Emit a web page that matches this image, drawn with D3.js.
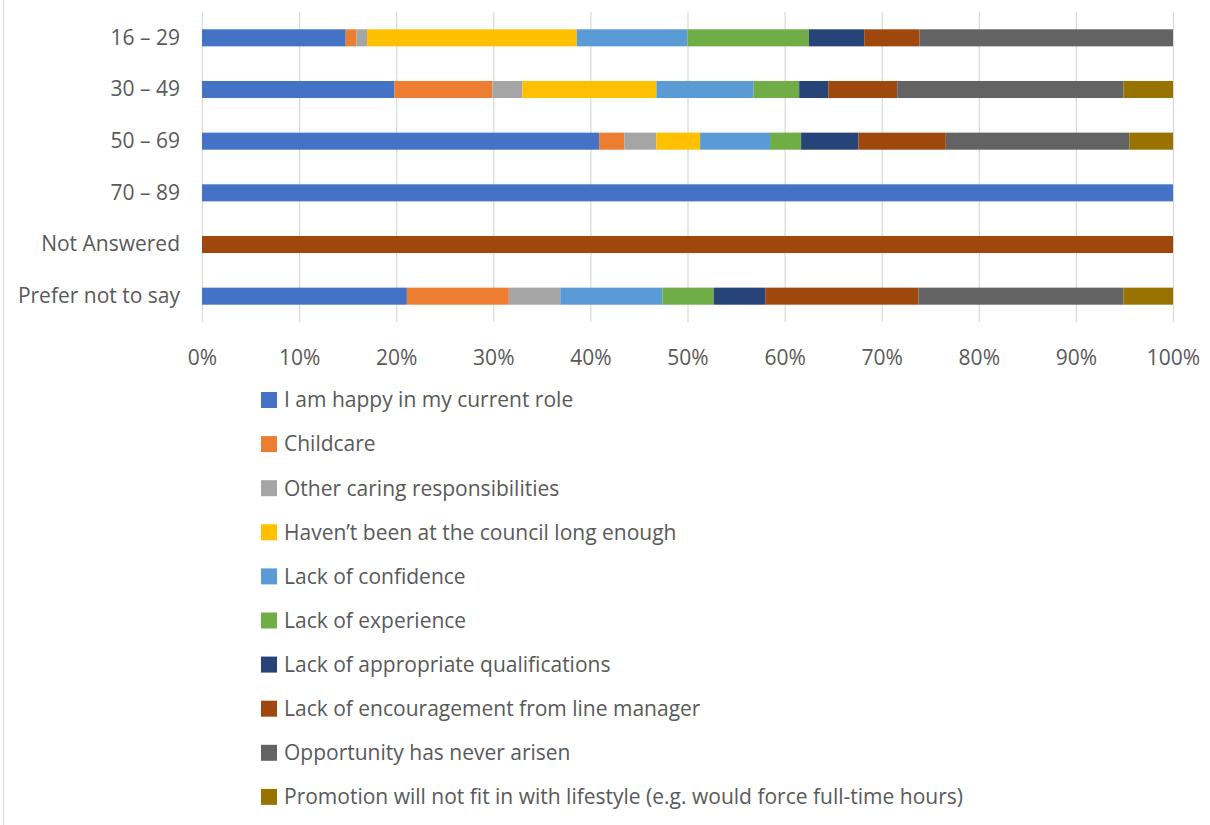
<!DOCTYPE html>
<html><head><meta charset="utf-8">
<script src="https://cdn.jsdelivr.net/npm/d3@7/dist/d3.min.js"></script>
<style>
html,body{margin:0;padding:0;background:#fff;}
svg{display:block;}
</style></head>
<body>
<svg id="chart" width="1210" height="825"></svg>
<script>
const categories = ["16 – 29","30 – 49","50 – 69","70 – 89","Not Answered","Prefer not to say"];
const seriesNames = [
  "I am happy in my current role",
  "Childcare",
  "Other caring responsibilities",
  "Haven’t been at the council long enough",
  "Lack of confidence",
  "Lack of experience",
  "Lack of appropriate qualifications",
  "Lack of encouragement from line manager",
  "Opportunity has never arisen",
  "Promotion will not fit in with lifestyle (e.g. would force full-time hours)"
];
const seriesColors = ["#4472C4","#ED7D31","#A5A5A5","#FFC000","#5B9BD5","#70AD47","#264478","#9E480E","#636363","#997300"];
// percentage values, one array per series, in category order
const happy        = [14.8, 19.8, 40.9, 100, 0, 21.1];
const childcare    = [1.1, 10.1, 2.6, 0, 0, 10.5];
const otherCaring  = [1.1, 3.1, 3.3, 0, 0, 5.3];
const notLongEnough= [21.6, 13.8, 4.5, 0, 0, 0];
const confidence   = [11.4, 10.0, 7.2, 0, 0, 10.5];
const experience   = [12.5, 4.7, 3.2, 0, 0, 5.3];
const qualifications=[5.7, 3.0, 5.9, 0, 0, 5.3];
const encouragement= [5.7, 7.1, 9.0, 0, 100, 15.8];
const neverArisen  = [26.3, 23.3, 18.9, 0, 0, 21.1];
const lifestyle    = [0, 5.1, 4.5, 0, 0, 5.3];
const seriesValues = [happy, childcare, otherCaring, notLongEnough, confidence, experience, qualifications, encouragement, neverArisen, lifestyle];
const tickValues = [0,10,20,30,40,50,60,70,80,90,100];

const svg = d3.select("#chart");
const font = "'Open Sans', sans-serif";
const textColor = "#595959";
const fs = 21;

// outer border
svg.append("rect").attr("x",3.5).attr("y",-2).attr("width",1300).attr("height",830)
  .attr("fill","none").attr("stroke","#d9d9d9").attr("stroke-width",1);

const x0 = 202, x1 = 1173, yTop = 12, yBot = 322;
const x = d3.scaleLinear().domain([0,100]).range([x0,x1]);
const y = d3.scaleBand().domain(categories).range([yTop,yBot]).paddingInner(0.67).paddingOuter(0.335);

// gridlines
svg.append("g").selectAll("line").data(tickValues).join("line")
  .attr("x1",d=>x(d)+0.5).attr("x2",d=>x(d)+0.5).attr("y1",yTop).attr("y2",yBot)
  .attr("stroke","#d9d9d9").attr("stroke-width",1.2);

// stacked data
const rows = categories.map((c,i)=>{ const o={cat:c}; seriesNames.forEach((s,j)=>o[s]=seriesValues[j][i]); return o; });
const stacked = d3.stack().keys(seriesNames)(rows);

svg.append("g").selectAll("g").data(stacked).join("g")
  .attr("fill",(d,i)=>seriesColors[i])
  .selectAll("rect").data(d=>d).join("rect")
  .attr("x",d=>x(d[0])).attr("width",d=>Math.max(0,x(Math.min(100,d[1]))-x(d[0])))
  .attr("y",d=>y(d.data.cat)).attr("height",y.bandwidth());

// x axis labels
const xAxis = d3.axisBottom(x).tickValues(tickValues).tickFormat(d=>d+"%").tickSize(0).tickPadding(0);
const gx = svg.append("g").attr("transform",`translate(0,${yBot+28})`).call(xAxis);
gx.select(".domain").remove();
gx.selectAll("text").attr("font-family",font).attr("font-size",fs).attr("fill",textColor).attr("dy","0.35em").attr("y",8);

// y axis labels
const yAxis = d3.axisLeft(y).tickSize(0).tickPadding(0);
const gy = svg.append("g").attr("transform",`translate(180,0)`).call(yAxis);
gy.select(".domain").remove();
gy.selectAll("text").attr("font-family",font).attr("font-size",fs).attr("fill",textColor);

// legend
const legend = svg.append("g").selectAll("g").data(seriesNames).join("g")
  .attr("transform",(d,i)=>`translate(261,${400 + i*44.1})`);
legend.append("rect").attr("x",0).attr("y",-8).attr("width",16).attr("height",16).attr("fill",(d,i)=>seriesColors[i]);
legend.append("text").attr("x",23).attr("y",0).attr("dy","0.35em")
  .attr("font-family",font).attr("font-size",fs).attr("fill",textColor).text(d=>d);
</script>
</body></html>
